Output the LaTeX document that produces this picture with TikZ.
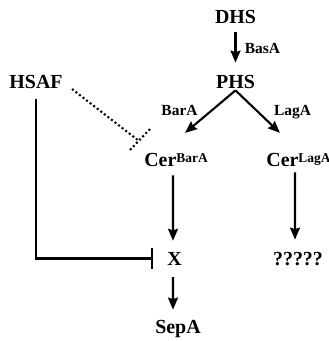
\documentclass[tikz,border=0pt]{standalone}
\usepackage{fontspec}
\setmainfont{Liberation Serif}
\usetikzlibrary{arrows.meta,calc}
\newcommand\mysup[1]{\raisebox{4bp}{\fontsize{13.5}{15}\selectfont #1}}
\begin{document}
\begin{tikzpicture}[x=1bp,y=-1bp,
  every node/.style={inner sep=2bp, font=\bfseries\fontsize{20}{24}\selectfont},
  lbl/.style={font=\bfseries\fontsize{15.5}{18}\selectfont},
  arr/.style={line width=2.1bp, -{Stealth[length=12bp,width=10bp,inset=1.5bp]}},
  inh/.style={line width=2.1bp, -{Bar[width=21bp]}},
  dotline/.style={line width=2.1bp, dash pattern=on 2bp off 2.5bp}]
\useasboundingbox (0,0) rectangle (329,341);
\node[anchor=base] (dhs) at (235.5,23) {DHS};
\node[anchor=base] (phs) at (235.5,88) {PHS};
\node[anchor=base] (hsaf) at (36,88) {HSAF};
\node[anchor=base] (cerb) at (176,166) {Cer\mysup{BarA}};
\node[anchor=base] (cerl) at (298.5,166) {Cer\mysup{LagA}};
\node[anchor=base] (x) at (174.5,265) {X};
\node[anchor=base] (q) at (298,265) {?????};
\node[anchor=base] (sepa) at (178,333) {SepA};
\node[lbl,anchor=base] (basa) at (262.5,53) {BasA};
\node[lbl,anchor=base] (bara) at (179.5,115) {BarA};
\node[lbl,anchor=base] (laga) at (292.5,115) {LagA};
\coordinate (ds) at (72,89);
\coordinate (de) at (139,141);
\coordinate (b1) at (130,150);
\coordinate (b2) at (150,129);
\draw[arr, shorten <=6.5bp, shorten >=10bp] (dhs.south) -- (phs.north);
\draw[arr, shorten >=27.5bp] (phs.south) -- ([xshift=-12bp]cerb.north);
\draw[arr, shorten >=25.7bp] (phs.south) -- (cerl.north);
\draw[arr, shorten <=7bp, shorten >=9bp] ([xshift=-3bp]cerb.south) -- ([xshift=-1.5bp]x.north);
\draw[arr, shorten <=10bp, shorten >=8bp] ([xshift=-1.5bp]x.south) -- ([xshift=-5bp]sepa.north);
\draw[arr, shorten <=4bp, shorten >=10bp] ([xshift=-3.5bp]cerl.south) -- ([xshift=-3bp]q.north);
\draw[inh, shorten <=8.5bp, shorten >=12bp] (hsaf.south) |- (x.west);
\draw[dotline] (ds) -- (de);
\draw[dotline] (b1) -- (b2);
\end{tikzpicture}
\end{document}
